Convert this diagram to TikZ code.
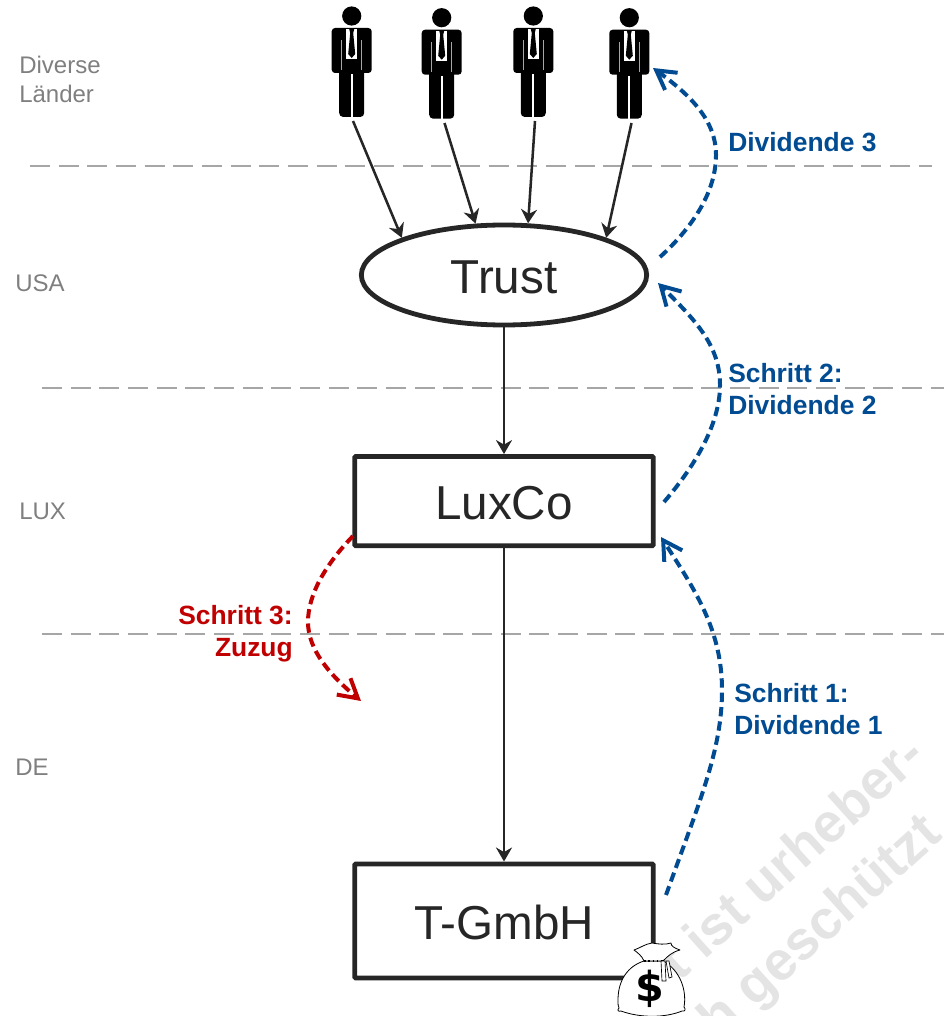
\documentclass[tikz,border=0pt]{standalone}
\usepackage{fontspec}
\setmainfont{Liberation Sans}
\newfontfamily\dollarfont{DejaVu Sans}
\usetikzlibrary{arrows.meta, positioning, shapes.geometric}
\definecolor{lineDark}{RGB}{38, 38, 38}
\definecolor{borderGray}{RGB}{166, 166, 166}
\definecolor{regionGray}{RGB}{127, 127, 127}
\definecolor{stepBlue}{RGB}{0, 75, 145}
\definecolor{stepRed}{RGB}{192, 0, 0}
\definecolor{markGray}{RGB}{228, 228, 228}
\tikzset{
    % Entity Styles
    entity/.style={
        draw=lineDark,
        line width=3.6pt,
        fill=none,
        text=lineDark,
        text height=28pt,
        text depth=0pt,
        font=\fontsize{35.7}{40}\selectfont
    },
    entityBox/.style={entity, rectangle, rounded corners=0.8pt, minimum width=224pt},
    entityOval/.style={entity, ellipse, minimum width=214pt, minimum height=75pt, inner sep=0pt},
    % Arrow Styles
    arrow/.style={-{Stealth[length=10.5pt, width=12pt]}, line width=1.9pt, draw=lineDark},
    stepArrow/.style={
        -{Straight Barb[length=14pt, width=16pt, line width=3pt]},
        line width=3pt,
        dash pattern=on 7pt off 3.8pt
    },
    blueArrow/.style={stepArrow, draw=stepBlue},
    redArrow/.style={stepArrow, draw=stepRed},
    border/.style={draw=borderGray, line width=1.5pt, dash pattern=on 15pt off 6.5pt},
    % Label Styles
    regionLabel/.style={anchor=west, inner sep=0pt, align=left, text=regionGray, font=\fontsize{18}{22}\selectfont},
    stepLabel/.style={anchor=west, inner sep=0pt, align=left, font=\bfseries\fontsize{19.8}{24}\selectfont},
    markLabel/.style={anchor=base west, inner sep=0pt, rotate=42, text=markGray, font=\bfseries\fontsize{41}{44}\selectfont},
    % Person Figure
    person/.pic={
        \fill [black] (0,0) circle [radius=7.2pt];
        \fill [black, rounded corners=2.5pt] (-20,12) rectangle (20,57);
        \fill [black, rounded corners=3pt] (-12.5,50) rectangle (12.5,101);
        \fill [white] (-1,58) rectangle (1,101);
        \fill [gray!70] (-10.3,24) rectangle (-9.7,54);
        \fill [gray!70] (9.7,24) rectangle (10.3,54);
        \fill [white] (-5.5,13) -- (5.5,13) -- (5.5,43) -- (-5.5,43) -- cycle;
        \fill [black] (-2.5,13) -- (2.5,13) -- (1.5,17) -- (3.5,38) -- (0,42) -- (-3.5,38) -- (-1.5,17) -- cycle;
    }
}

\begin{document}
\begin{tikzpicture}[x=0.75pt, y=-0.75pt]

    \useasboundingbox (0,0) rectangle (950,1016);

    % --- Watermark ---
    \node (markA) [markLabel] at (668,993) {lt ist urheber-};
    \node (markB) [markLabel] at (718,1041) {h geschützt};

    % --- Country Borders ---
    \coordinate (borderA1) at (30,166);
    \coordinate (borderA2) at (932,166);
    \coordinate (borderB1) at (42,388);
    \coordinate (borderB2) at (944,388);
    \coordinate (borderC1) at (42,634);
    \coordinate (borderC2) at (944,634);
    \draw [border] (borderA1) -- (borderA2);
    \draw [border] (borderB1) -- (borderB2);
    \draw [border] (borderC1) -- (borderC2);

    % --- Countries ---
    \node (regionMisc) [regionLabel] at (19,79.5) {Diverse\\Länder};
    \node (regionUSA) [regionLabel] at (15,283) {USA};
    \node (regionLUX) [regionLabel] at (19,511) {LUX};
    \node (regionDE) [regionLabel] at (15,767) {DE};

    % --- Persons ---
    \pic at (351.7,16) {person};
    \pic at (441.7,17.7) {person};
    \pic at (533.3,16) {person};
    \pic at (629.3,17.7) {person};
    \coordinate (foot1) at (353,121);
    \coordinate (foot2) at (444.5,123);
    \coordinate (foot3) at (535,121);
    \coordinate (foot4) at (631.5,123);

    % --- Entities ---
    \node (trust) [entityOval] at (504,275) {Trust};
    \node (luxco) [entityBox, minimum height=67pt, below=95pt of trust] {LuxCo};
    \node (tgmbh) [entityBox, minimum height=85.5pt, below=235pt of luxco] {T-GmbH};

    % --- Arrows ---
    \draw [arrow] (foot1) -- (trust.160);
    \draw [arrow] (foot2) -- (trust.119);
    \draw [arrow] (foot3) -- (trust.65);
    \draw [arrow] (foot4) -- (trust.20);
    \draw [arrow] (trust) -- (luxco);
    \draw [arrow] (luxco) -- (tgmbh);

    % --- Dividends ---
    \coordinate (divOne) at (666,895);
    \coordinate (divOneEnd) at (661,537);
    \coordinate (divTwo) at (664,502);
    \coordinate (divTwoEnd) at (658,283);
    \coordinate (divThree) at (660,257);
    \coordinate (divThreeEnd) at (653,68);
    \coordinate (moveStart) at (353,536);
    \coordinate (moveEnd) at (361,701);
    \draw [blueArrow] (divOne) .. controls (700,800) and (722,750) .. (722,690) .. controls (722,630) and (695,590) .. (divOneEnd);
    \draw [blueArrow] (divTwo) .. controls (700,460) and (720,420) .. (720,385) .. controls (720,345) and (695,320) .. (divTwoEnd);
    \draw [blueArrow] (divThree) .. controls (695,225) and (716,190) .. (716,155) .. controls (716,120) and (690,95) .. (divThreeEnd);
    \draw [redArrow] (moveStart) .. controls (325,565) and (308,595) .. (308,622) .. controls (308,650) and (330,675) .. (moveEnd);

    % --- Step Labels ---
    \node (labelThree) [stepLabel, text=stepBlue] at (728,142) {Dividende 3};
    \node (labelTwo) [stepLabel, text=stepBlue] at (728,389) {Schritt 2:\\Dividende 2};
    \node (labelOne) [stepLabel, text=stepBlue] at (734,709) {Schritt 1:\\Dividende 1};
    \node (labelMove) [stepLabel, text=stepRed, anchor=east, align=right] at (293,634) {Schritt 3:\\Zuzug};

    % --- Money Bag ---
    \draw [black, fill=white, line width=0.6pt, line join=round]
        (644,961) .. controls (628,966) and (618,980) .. (618,1000)
        .. controls (618,1004) and (618,1006) .. (619,1008)
        .. controls (617,1010) and (618,1012) .. (621,1011)
        .. controls (640,1018) and (665,1018) .. (682,1011)
        .. controls (685,1012) and (686,1009) .. (684,1007)
        .. controls (687,990) and (680,970) .. (663,961) -- cycle;
    \draw [black, fill=white, line width=0.6pt, line join=round]
        (644,961) .. controls (642,956) and (638,953) .. (634,950)
        .. controls (640,948) and (645,944) .. (652,943)
        .. controls (658,944) and (665,945) .. (671,943)
        .. controls (671,946) and (674,948) .. (680,950)
        .. controls (672,952) and (668,956) .. (663,961) -- cycle;
    \draw [black, line width=1.2pt, dotted] (644,961) -- (663,961);
    \draw [black, fill=white, line width=0.5pt] (661,961) -- (665,961) -- (666,981) -- (662,981) -- cycle;
    \draw [black, fill=white, line width=0.5pt] (666,961) -- (669,961) -- (672,977) -- (669,978) -- cycle;
    \node (dollar) [inner sep=0pt, font=\dollarfont\bfseries\fontsize{31}{31}\selectfont] at (650,989) {\$};

\end{tikzpicture}
\end{document}
